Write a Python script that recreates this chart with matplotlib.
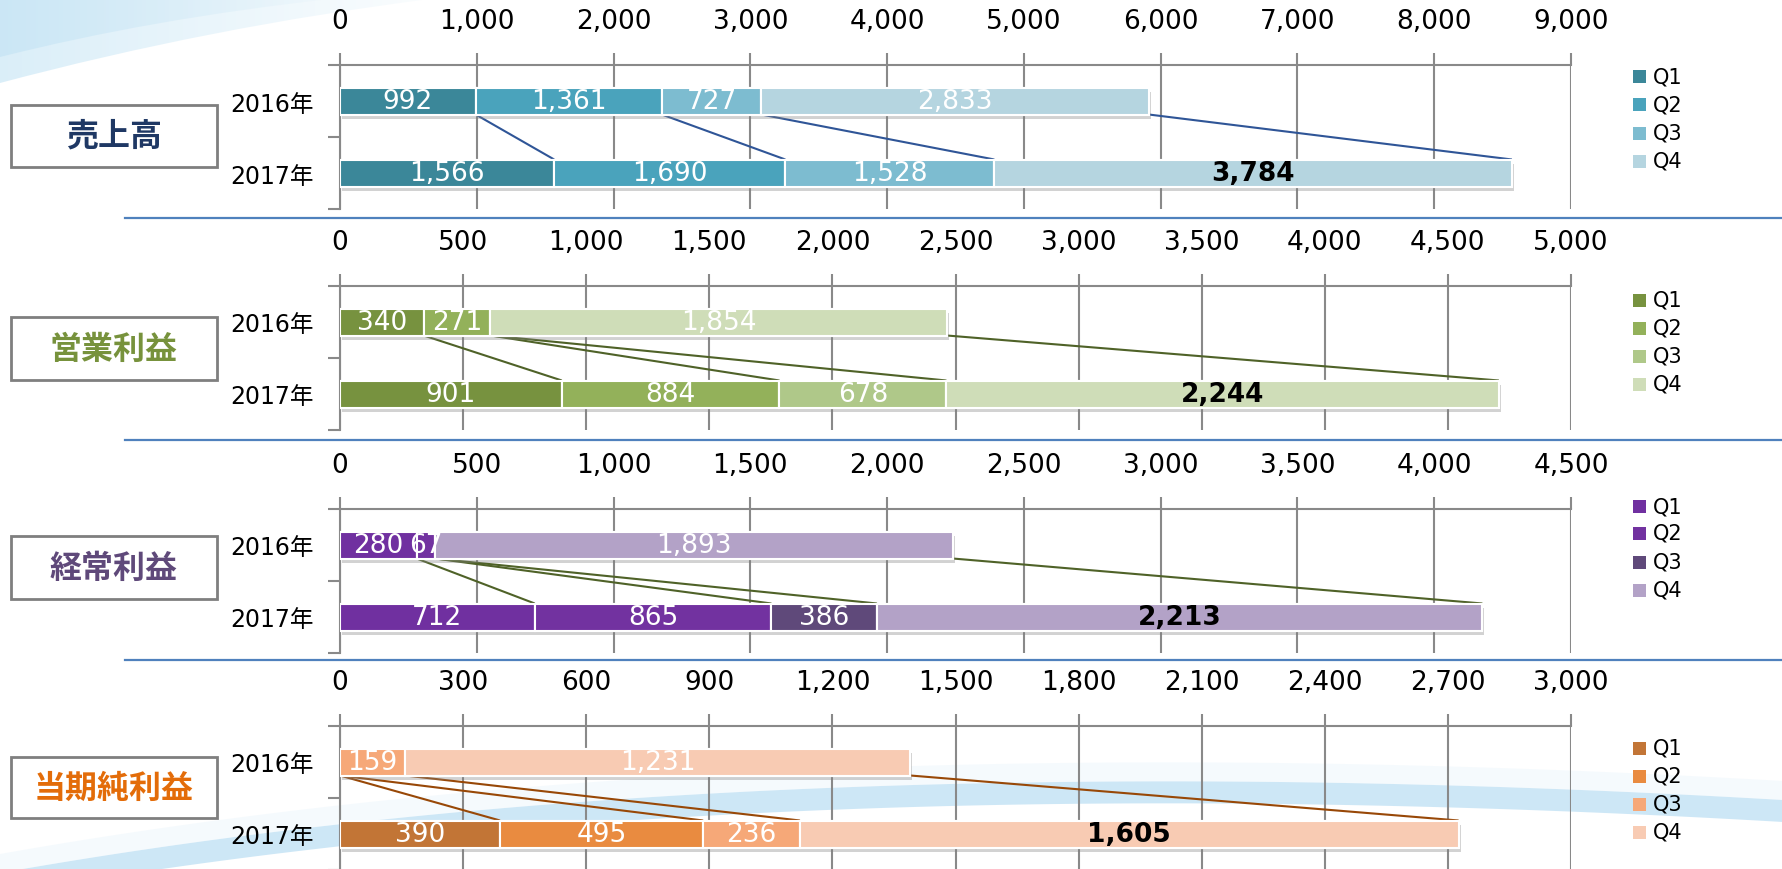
import numpy as np
import matplotlib
matplotlib.use("Agg")
import matplotlib.pyplot as plt
from matplotlib.patches import Rectangle, PathPatch
from matplotlib.path import Path
import matplotlib.patheffects as pe

# ---------------- data ----------------
years = ["2016年", "2017年"]
quarters = ["Q1", "Q2", "Q3", "Q4"]

sales_2016 = [992, 1361, 727, 2833]
sales_2017 = [1566, 1690, 1528, 3784]
op_profit_2016 = [340, 271, 0, 1854]
op_profit_2017 = [901, 884, 678, 2244]
ord_profit_2016 = [280, 67, 0, 1893]
ord_profit_2017 = [712, 865, 386, 2213]
net_profit_2016 = [0, 0, 159, 1231]
net_profit_2017 = [390, 495, 236, 1605]

titles = ["売上高", "営業利益", "経常利益", "当期純利益"]
axis_max = [9000, 5000, 4500, 3000]
axis_step = [1000, 500, 500, 300]

# ---------------- styling ----------------
W, H, DPI = 1783, 870, 100
JP = ["Noto Sans CJK JP", "DejaVu Sans"]
LATIN_JP = ["DejaVu Sans", "Noto Sans CJK JP"]

palettes = [
    ["#3b8799", "#4aa3bc", "#7dbcd0", "#b5d5e0"],
    ["#77923f", "#93b15a", "#afc889", "#cfddb8"],
    ["#7030a0", "#7232a0", "#5f497a", "#b3a2c7"],
    ["#c27536", "#e98b40", "#f6a878", "#f8cbb3"],
]
title_colors = ["#1f3864", "#77923c", "#5f497a", "#e36c09"]
link_colors = ["#2f5597", "#4f6228", "#4f6228", "#984807"]
grid_color = "#898989"

panel_tops = [66, 287, 510, 727]
panel_h = 144
ax_left, ax_right = 340, 1571
box_spans = [(106, 168), (318, 381), (537, 600), (758, 819)]
legend_rows = [[77, 105, 134, 162], [301, 329, 357, 385],
               [507, 534, 563, 591], [749, 777, 805, 833]]
separators = [219, 441, 661]

series = [(sales_2016, sales_2017), (op_profit_2016, op_profit_2017),
          (ord_profit_2016, ord_profit_2017), (net_profit_2016, net_profit_2017)]

fig = plt.figure(figsize=(W / DPI, H / DPI), dpi=DPI)
fig.patch.set_facecolor("white")

# ---------------- background layer (pixel coordinates) ----------------
bg = fig.add_axes([0, 0, 1, 1], zorder=0)
bg.set_xlim(0, W)
bg.set_ylim(H, 0)
bg.axis("off")


def gradient_image(ax, extent, rgb, a0, a1, clip):
    x0, x1, y0, y1 = extent
    n = 256
    alpha = np.linspace(a0, a1, n)[None, :].repeat(8, axis=0)
    img = np.zeros((8, n, 4))
    img[..., 0], img[..., 1], img[..., 2] = rgb
    img[..., 3] = alpha
    im = ax.imshow(img, extent=(x0, x1, y1, y0), aspect="auto",
                   interpolation="bilinear", zorder=0)
    im.set_clip_path(clip)


# upper-left swoosh: a pale outer sweep with a deeper tint in the corner
outer = Path([(0, 0), (430, 0), (210, 28), (0, 84), (0, 0)],
             [Path.MOVETO, Path.LINETO, Path.CURVE3, Path.CURVE3, Path.CLOSEPOLY])
p_outer = PathPatch(outer, facecolor="none", edgecolor="none", transform=bg.transData)
bg.add_patch(p_outer)
gradient_image(bg, (0, 430, 0, 90), (0.82, 0.92, 0.97), 0.8, 0.1, p_outer)
inner = Path([(0, 0), (330, 0), (150, 20), (0, 58), (0, 0)],
             [Path.MOVETO, Path.LINETO, Path.CURVE3, Path.CURVE3, Path.CLOSEPOLY])
p_inner = PathPatch(inner, facecolor="none", edgecolor="none", transform=bg.transData)
bg.add_patch(p_inner)
gradient_image(bg, (0, 330, 0, 60), (0.76, 0.89, 0.96), 0.6, 0.05, p_inner)

# lower swoosh
t = np.linspace(0, 1, 200)
P0, P1, P2 = np.array([0, 885]), np.array([750, 752]), np.array([1783, 812])
cx = (1 - t) ** 2 * P0[0] + 2 * (1 - t) * t * P1[0] + t ** 2 * P2[0]
cy = (1 - t) ** 2 * P0[1] + 2 * (1 - t) * t * P1[1] + t ** 2 * P2[1]
bg.fill_between(cx, cy - 30, cy - 11, color="#eaf5fc", alpha=0.45, lw=0, zorder=0)
bg.fill_between(cx, cy - 11, cy + 11, color="#cbe6f6", alpha=0.95, lw=0, zorder=0)

# separators
for ys in separators:
    bg.plot([125, W], [ys, ys], color="#4f81bd", lw=1.6, zorder=1)

# ---------------- panels ----------------
bar_h = 0.375
for k in range(4):
    v16, v17 = series[k]
    cols = palettes[k]
    top = panel_tops[k]
    ax = fig.add_axes([ax_left / W, 1 - (top + panel_h) / H,
                       (ax_right - ax_left) / W, panel_h / H], zorder=2)
    ax.set_facecolor("none")
    ax.set_xlim(0, axis_max[k])
    ax.set_ylim(1.5, -0.5)

    ticks = np.arange(0, axis_max[k] + 1, axis_step[k])
    ax.set_xticks(ticks)
    ax.set_xticklabels([f"{int(v):,}" for v in ticks])
    ax.xaxis.tick_top()
    ax.tick_params(axis="x", direction="out", length=9, width=1.5,
                   color=grid_color, labelsize=19, pad=13, labelcolor="black")
    ax.grid(axis="x", color=grid_color, lw=1.5, zorder=0)
    ax.set_axisbelow(True)

    ax.set_yticks([0, 1])
    ax.set_yticklabels(years, fontfamily=LATIN_JP, fontsize=17)
    ax.set_yticks([-0.5, 0.5, 1.5], minor=True)
    ax.tick_params(axis="y", which="major", length=0, pad=19)
    ax.tick_params(axis="y", which="minor", direction="out", length=9,
                   width=1.5, color=grid_color)

    for side in ["right", "bottom"]:
        ax.spines[side].set_visible(False)
    for side in ["top", "left"]:
        ax.spines[side].set_color(grid_color)
        ax.spines[side].set_linewidth(1.5)

    shadow = [pe.withSimplePatchShadow(offset=(1.5, -3), shadow_rgbFace="#808080",
                                       alpha=0.35), pe.Normal()]
    for yi, vals in enumerate([v16, v17]):
        lefts = np.concatenate([[0], np.cumsum(vals)[:-1]])
        for q in range(4):
            if vals[q] <= 0:
                continue
            ax.barh(yi, vals[q], left=lefts[q], height=bar_h, color=cols[q],
                    edgecolor="white", lw=1.5, zorder=3, path_effects=shadow)
        for q in range(4):
            if vals[q] <= 0:
                continue
            bold = (yi == 1 and q == 3)
            ax.text(lefts[q] + vals[q] / 2, yi, f"{vals[q]:,}", ha="center",
                    va="center", fontsize=19,
                    color="black" if bold else "white",
                    fontweight="bold" if bold else "normal", zorder=5)

    # links between the quarter boundaries of the two years
    c16, c17 = np.cumsum(v16), np.cumsum(v17)
    for q in range(4):
        ax.plot([c16[q], c17[q]], [bar_h / 2, 1 - bar_h / 2],
                color=link_colors[k], lw=1.5, zorder=2.5, solid_capstyle="butt")

    # category box with title
    y0, y1 = box_spans[k]
    bg.add_patch(Rectangle((11, y0), 206, y1 - y0, facecolor="white",
                           edgecolor="#7f7f7f", lw=2, zorder=2))
    bg.text(114, (y0 + y1) / 2, titles[k], ha="center", va="center",
            fontsize=23, fontweight="bold", fontfamily=JP,
            color=title_colors[k], zorder=3)

    # legend
    for q in range(4):
        yc = legend_rows[k][q]
        bg.add_patch(Rectangle((1633, yc - 6.5), 13, 13, facecolor=cols[q],
                               edgecolor="none", zorder=3))
        bg.text(1653, yc, quarters[q], ha="left", va="center", fontsize=15,
                color="black", zorder=3)

fig.savefig("out.png", dpi=DPI, facecolor="white")
